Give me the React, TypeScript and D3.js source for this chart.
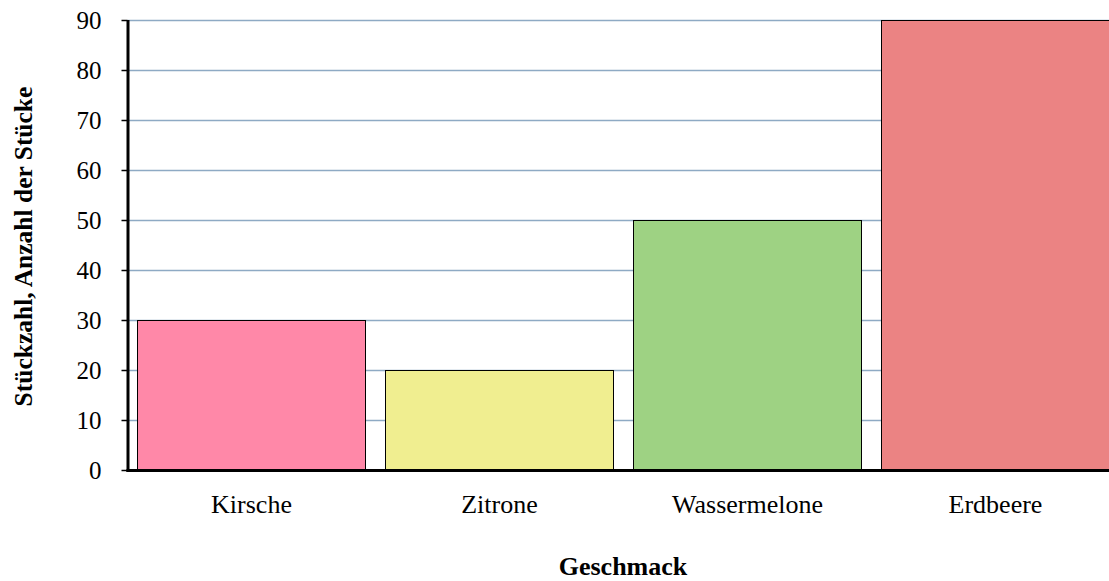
import React from "react";
import * as d3 from "d3";

const categories = ["Kirsche", "Zitrone", "Wassermelone", "Erdbeere"];
const values = [30, 20, 50, 90];
const colors = ["#FF88A8", "#F0EE90", "#9ED283", "#EB8383"];
const yTicks = [0, 10, 20, 30, 40, 50, 60, 70, 80, 90];

export default function App() {
  const W = 1109, H = 581;
  const left = 127.5, plotTop = 20.5, plotBottom = 470.5;
  const xb = d3.scaleBand<string>().domain(categories).range([left, left + 992]);
  const y = d3.scaleLinear().domain([0, 90]).range([plotBottom, plotTop]);
  const font = "'Liberation Serif', 'Times New Roman', serif";
  return (
    <div style={{ position: "fixed", left: 0, top: 0 }}>
      <svg width={W} height={H} style={{ display: "block" }}>
        <rect width={W} height={H} fill="#fff" />
        {yTicks.filter(t => t > 0).map(t => (
          <line key={t} x1={left} x2={left + 992} y1={y(t)} y2={y(t)} stroke="#8EAAC4" strokeWidth={1.5} />
        ))}
        {categories.map((c, i) => {
          const bx = xb(c)! + 10;
          const bw = xb.bandwidth() - 20;
          return (
            <rect key={c} x={bx} y={y(values[i])} width={bw} height={plotBottom - y(values[i])} fill={colors[i]} stroke="#000" strokeWidth={1} />
          );
        })}
        <line x1={left + 0.5} x2={left + 0.5} y1={plotTop - 0.5} y2={plotBottom + 1.5} stroke="#000" strokeWidth={3} />
        <line x1={left - 1} x2={W} y1={plotBottom} y2={plotBottom} stroke="#000" strokeWidth={3} />
        {yTicks.map(t => (
          <g key={t}>
            <line x1={left - 6} x2={left} y1={y(t)} y2={y(t)} stroke="#000" strokeWidth={1.5} />
            <text x={101.5} y={y(t)} dy="0.35em" textAnchor="end" fontFamily={font} fontSize={25} fill="#000">{t}</text>
          </g>
        ))}
        {categories.map(c => (
          <text key={c} x={xb(c)! + xb.bandwidth() / 2} y={512.5} textAnchor="middle" fontFamily={font} fontSize={26} fill="#000">{c}</text>
        ))}
        <text x={623} y={575} textAnchor="middle" fontFamily={font} fontSize={26} fontWeight="bold" fill="#000">Geschmack</text>
        <text transform={`translate(32, 246.5) rotate(-90)`} textAnchor="middle" fontFamily={font} fontSize={25.5} fontWeight="bold" fill="#000">Stückzahl, Anzahl der Stücke</text>
      </svg>
    </div>
  );
}
